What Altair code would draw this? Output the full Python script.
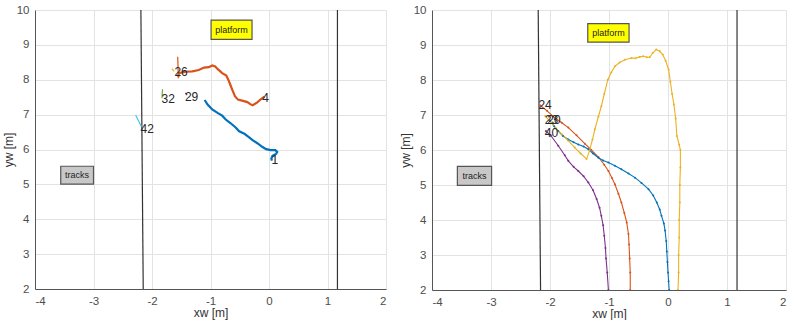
import altair as alt
import pandas as pd

# ---------------- Left panel data ----------------
L1_x = [-1.10, -1.05, -0.97, -0.88, -0.80, -0.74, -0.66, -0.57, -0.51, -0.42, -0.35, -0.28, -0.20, -0.11, -0.05, 0.03, 0.11, 0.14, 0.12, 0.06, 0.04, 0.05]
L1_y = [7.42, 7.29, 7.15, 7.05, 6.97, 6.86, 6.76, 6.63, 6.52, 6.45, 6.36, 6.27, 6.18, 6.07, 6.01, 5.98, 5.98, 5.93, 5.87, 5.82, 5.74, 5.68]
L4_x = [-1.55, -1.54, -1.42, -1.31, -1.20, -1.11, -1.03, -0.97, -0.92, -0.88, -0.80, -0.73, -0.69, -0.66, -0.62, -0.58, -0.53, -0.46, -0.37, -0.32, -0.28, -0.20, -0.14, -0.08]
L4_y = [8.08, 8.19, 8.23, 8.24, 8.28, 8.35, 8.36, 8.41, 8.38, 8.31, 8.19, 8.12, 7.98, 7.85, 7.68, 7.52, 7.43, 7.40, 7.36, 7.30, 7.27, 7.35, 7.44, 7.52]
L26_x = [-1.56, -1.55]
L26_y = [8.66, 8.04]
L26b_x = [-1.66, -1.62]
L26b_y = [8.32, 8.24]
L32_x = [-1.82, -1.83]
L32_y = [7.73, 7.47]
L29_x = [-1.43, -1.40]
L29_y = [7.62, 7.56]
L42_x = [-2.28, -2.18]
L42_y = [6.99, 6.65]

L_labels = ["1", "4", "26", "29", "32", "42"]
L_label_x = [0.06, -0.10, -1.60, -1.42, -1.82, -2.18]
L_label_y = [5.69, 7.49, 8.21, 7.50, 7.45, 6.60]

# ---------------- Right panel data ----------------
RP_x = [-2.07, -1.98, -1.86, -1.75, -1.69, -1.60, -1.52, -1.43, -1.35, -1.27, -1.21, -1.16, -1.13, -1.10, -1.08, -1.06, -1.05, -1.03, -1.01]
RP_y = [6.54, 6.40, 6.12, 5.85, 5.69, 5.52, 5.40, 5.25, 5.07, 4.85, 4.60, 4.35, 4.12, 3.85, 3.55, 3.20, 2.90, 2.50, 2.00]
RO_x = [-2.17, -2.05, -1.92, -1.80, -1.69, -1.55, -1.41, -1.30, -1.18, -1.08, -1.01, -0.95, -0.90, -0.84, -0.79, -0.74, -0.70, -0.67, -0.66, -0.65, -0.64, -0.64]
RO_y = [7.28, 7.12, 6.92, 6.78, 6.64, 6.42, 6.18, 6.00, 5.80, 5.58, 5.40, 5.20, 5.02, 4.75, 4.50, 4.20, 3.93, 3.60, 3.30, 2.90, 2.50, 2.00]
RB_x = [-2.00, -1.93, -1.86, -1.78, -1.69, -1.60, -1.52, -1.43, -1.35, -1.27, -1.18, -1.10, -1.01, -0.90, -0.79, -0.67, -0.56, -0.45, -0.33, -0.25, -0.19, -0.14, -0.11, -0.07, -0.05, -0.03, -0.02, -0.01, 0.00, 0.01, 0.02]
RB_y = [6.83, 6.68, 6.54, 6.40, 6.30, 6.22, 6.16, 6.10, 6.02, 5.90, 5.78, 5.70, 5.64, 5.55, 5.45, 5.33, 5.21, 5.06, 4.88, 4.70, 4.50, 4.30, 4.12, 3.90, 3.70, 3.40, 3.10, 2.80, 2.50, 2.25, 2.00]
RY_x = [-2.08, -1.98, -1.90, -1.80, -1.70, -1.58, -1.48, -1.38, -1.33, -1.28, -1.24, -1.18, -1.13, -1.08, -1.02, -0.96, -0.90, -0.82, -0.73, -0.62, -0.55, -0.48, -0.42, -0.36, -0.31, -0.26, -0.20, -0.14, -0.09, -0.04, 0.01, 0.04, 0.07, 0.10, 0.13, 0.15, 0.19, 0.21, 0.21, 0.20, 0.20, 0.19, 0.19, 0.18, 0.18, 0.17]
RY_y = [6.97, 6.78, 6.62, 6.45, 6.28, 6.07, 5.90, 5.74, 5.98, 6.30, 6.59, 6.95, 7.25, 7.60, 8.01, 8.22, 8.39, 8.50, 8.58, 8.63, 8.62, 8.66, 8.68, 8.65, 8.65, 8.77, 8.87, 8.82, 8.73, 8.55, 8.30, 7.95, 7.60, 7.30, 6.90, 6.40, 6.15, 6.00, 5.50, 5.00, 4.50, 4.00, 3.50, 3.00, 2.50, 2.00]

R_labels = ["24", "23", "20", "40"]
R_label_x = [-2.18, -2.07, -2.03, -2.07]
R_label_y = [7.30, 6.87, 6.85, 6.49]

# Boundary (black) lines: x at top (y=10) and bottom (y=2)
L_bound_top = [-2.19, 1.17]
L_bound_bot = [-2.15, 1.17]
R_bound_top = [-2.20, 1.17]
R_bound_bot = [-2.16, 1.17]

# Annotation boxes [x1, x2, y1, y2]
L_tracks_box = [-3.56, -3.00, 5.01, 5.52]
L_platform_box = [-0.99, -0.29, 9.16, 9.71]
R_tracks_box = [-3.57, -2.99, 4.99, 5.53]
R_platform_box = [-1.36, -0.66, 9.08, 9.61]

X_TICKS = [-4, -3, -2, -1, 0, 1, 2]
Y_TICKS = [2, 3, 4, 5, 6, 7, 8, 9, 10]

FONT = "Liberation Sans"

xscale = alt.Scale(domain=[-4, 2], nice=False, zero=False)
yscale = alt.Scale(domain=[2, 10], nice=False, zero=False)
xaxis = alt.Axis(values=X_TICKS, title="xw [m]", labelExpr="'' + datum.value")
yaxis = alt.Axis(values=Y_TICKS, title="yw [m]", labelExpr="'' + datum.value")


def X(f):
    return alt.X(f, type="quantitative", scale=xscale, axis=xaxis)


def Y(f):
    return alt.Y(f, type="quantitative", scale=yscale, axis=yaxis)


def tracks_df(tracks):
    rows = []
    for name, xs, ys in tracks:
        for i, (xv, yv) in enumerate(zip(xs, ys)):
            rows.append({"x": xv, "y": yv, "track": name, "i": i})
    return pd.DataFrame(rows)


def bounds_df(top, bot):
    rows = []
    for k, (t, b) in enumerate(zip(top, bot)):
        rows.append({"x": t, "y": 10, "id": k})
        rows.append({"x": b, "y": 2, "id": k})
    return pd.DataFrame(rows)


def box_layers(box, label, fill):
    d = pd.DataFrame([{"x1": box[0], "x2": box[1], "y1": box[2], "y2": box[3],
                       "xc": (box[0] + box[1]) / 2, "yc": (box[2] + box[3]) / 2, "t": label}])
    r = alt.Chart(d).mark_rect(fill=fill, stroke="#555555", strokeWidth=1.2).encode(
        x=X("x1"), x2="x2:Q", y=Y("y1"), y2="y2:Q")
    t = alt.Chart(d).mark_text(font=FONT, fontSize=9, color="#222222").encode(
        x=X("xc"), y=Y("yc"), text="t:N")
    return [r, t]


def labels_layer(names, xs, ys):
    d = pd.DataFrame({"t": names, "x": xs, "y": ys})
    return alt.Chart(d).mark_text(font=FONT, fontSize=12, color="#262626", align="left",
                                  baseline="middle", dx=-1).encode(
        x=X("x"), y=Y("y"), text="t:N")


def bound_layer(top, bot):
    return alt.Chart(bounds_df(top, bot)).mark_line(color="#333333", strokeWidth=1.2).encode(
        x=X("x"), y=Y("y"), detail="id:N")


# ---------- Left panel ----------
L_thick = tracks_df([("1", L1_x, L1_y), ("4", L4_x, L4_y)])
L_thin = tracks_df([("26", L26_x, L26_y), ("26b", L26b_x, L26b_y), ("32", L32_x, L32_y),
                    ("29", L29_x, L29_y), ("42", L42_x, L42_y)])
L_colors = alt.Scale(domain=["1", "4", "26", "26b", "32", "29", "42"],
                     range=["#0072BD", "#D95319", "#D95319", "#EDB120", "#77AC30", "#7E2F8E", "#4DBEEE"])

left_thick = alt.Chart(L_thick).mark_line(strokeWidth=2.2, clip=True).encode(
    x=X("x"), y=Y("y"),
    color=alt.Color("track:N", scale=L_colors, legend=None), detail="track:N", order="i:Q")
left_thin = alt.Chart(L_thin).mark_line(strokeWidth=1.2, clip=True).encode(
    x=X("x"), y=Y("y"),
    color=alt.Color("track:N", scale=L_colors, legend=None), detail="track:N", order="i:Q")

left = alt.layer(
    bound_layer(L_bound_top, L_bound_bot),
    *box_layers(L_tracks_box, "tracks", "#c8c8c8"),
    *box_layers(L_platform_box, "platform", "#ffff00"),
    left_thick, left_thin,
    labels_layer(L_labels, L_label_x, L_label_y),
).properties(width=351, height=279)

# ---------- Right panel ----------
R_df = tracks_df([("40", RP_x, RP_y), ("24", RO_x, RO_y), ("20", RB_x, RB_y), ("23", RY_x, RY_y)])
R_colors = alt.Scale(domain=["20", "24", "23", "40"],
                     range=["#0072BD", "#D95319", "#EDB120", "#7E2F8E"])
right_lines = alt.Chart(R_df).mark_line(strokeWidth=1.1, clip=True, point=alt.OverlayMarkDef(size=4, filled=True)).encode(
    x=X("x"), y=Y("y"),
    color=alt.Color("track:N", scale=R_colors, legend=None), detail="track:N", order="i:Q")

right = alt.layer(
    bound_layer(R_bound_top, R_bound_bot),
    *box_layers(R_tracks_box, "tracks", "#c8c8c8"),
    *box_layers(R_platform_box, "platform", "#ffff00"),
    right_lines,
    labels_layer(R_labels, R_label_x, R_label_y),
).properties(width=354, height=280)

chart = alt.hconcat(left, right, spacing=12).resolve_scale(color="independent").properties(
    padding={"left": 2, "top": 4, "right": 5, "bottom": 0}
).configure_axis(
    labelFont=FONT, titleFont=FONT, labelFontSize=11.5, titleFontSize=12,
    labelColor="#4d4d4d", titleColor="#333333", titleFontWeight="normal",
    domainColor="#555555", domainWidth=1, tickColor="#555555", tickSize=0,
    gridColor="#e3e3e3", gridWidth=1, labelPadding=6, titlePadding=1,
    labelOverlap=False,
).configure_view(stroke=None).configure_concat(spacing=12)

chart.save("out.html", embed_options={"renderer": "svg", "actions": False})
